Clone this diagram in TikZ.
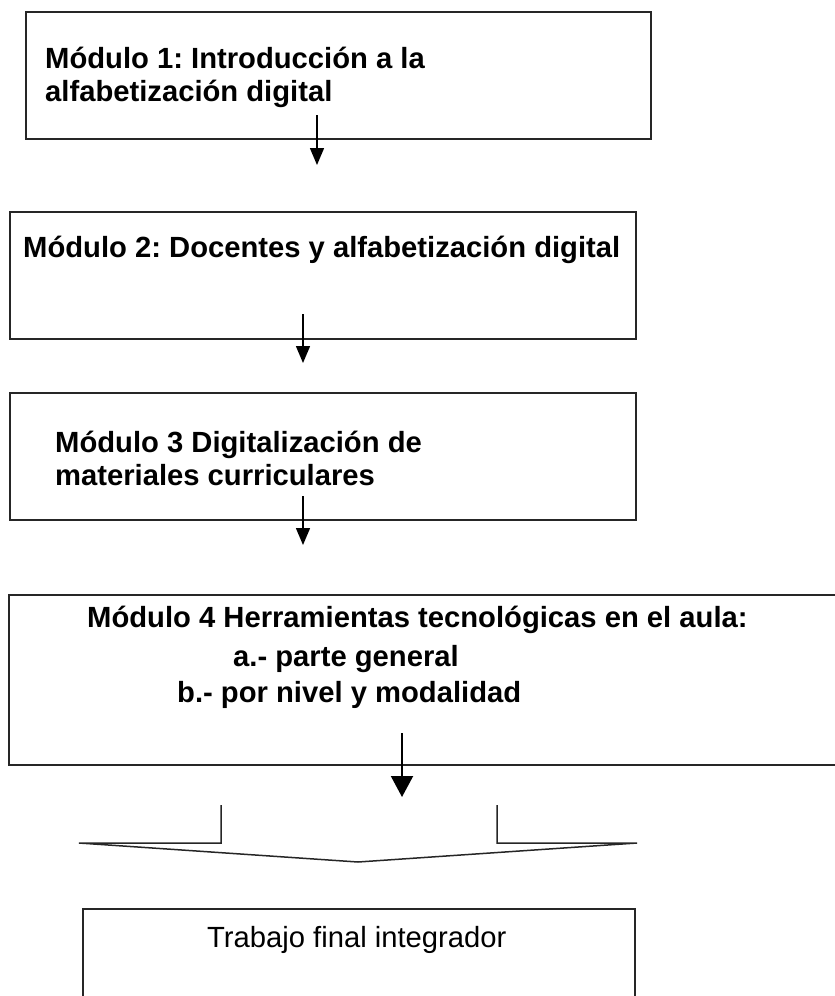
\documentclass[tikz,border=0pt]{standalone}
\usepackage{fontspec}
\setmainfont{Liberation Sans}
\usetikzlibrary{arrows.meta}
\frenchspacing
\begin{document}
\begin{tikzpicture}[x=1pt,y=-1pt,
  box/.style={draw=black!85, line width=1.6pt, rectangle, inner sep=0pt, anchor=north west},
  lbl/.style={font=\fontsize{29.2}{33}\selectfont\bfseries, anchor=base west, inner sep=0pt},
  plainlbl/.style={font=\fontsize{29.2}{33}\selectfont, anchor=base west, inner sep=0pt},
  flow/.style={line width=1.5pt, -{Triangle[length=17pt,width=14pt]}},
  bigflow/.style={line width=2pt, -{Triangle[length=21pt,width=22pt]}},
  bracket/.style={draw=black!85, line width=1.5pt, line join=miter}]
\useasboundingbox (0,0) rectangle (835,996);

% boxes
\node[box, minimum width=625pt, minimum height=127pt] (m1) at (25,11) {};
\node[box, minimum width=626pt, minimum height=127pt] (m2) at (9,211) {};
\node[box, minimum width=626pt, minimum height=127pt] (m3) at (9,392) {};
\node[box, line width=2pt, minimum width=832pt, minimum height=170pt] (m4) at (8,594) {};
\node[box, minimum width=552pt, minimum height=110pt] (tf) at (82,908) {};

% texts
\node[lbl] (t1a) at (45,68) {Módulo 1: Introducción a la};
\node[lbl] (t1b) at (45,101) {alfabetización digital};
\node[lbl] (t2) at (23,257) {Módulo 2: Docentes y alfabetización digital};
\node[lbl] (t3a) at (55,452) {Módulo 3 Digitalización de};
\node[lbl] (t3b) at (55,485) {materiales curriculares};
\node[lbl] (t4a) at (87,627) {Módulo 4 Herramientas tecnológicas en el aula:};
\node[lbl] (t4b) at (233,666) {a.- parte general};
\node[lbl] (t4c) at (177,702) {b.- por nivel y modalidad};
\node[plainlbl] (t5) at (207,947) {Trabajo final integrador};

% arrow coordinates
\coordinate (s1) at (317,115); \coordinate (e1) at (317,165);
\coordinate (s2) at (303,314); \coordinate (e2) at (303,363);
\coordinate (s3) at (303,496); \coordinate (e3) at (303,545);
\coordinate (s4) at (402,733); \coordinate (e4) at (402,797);
\draw[flow] (s1) -- (e1);
\draw[flow] (s2) -- (e2);
\draw[flow] (s3) -- (e3);
\draw[bigflow] (s4) -- (e4);

% bracket / funnel shape
\coordinate (bl) at (221,805);
\coordinate (br) at (497,805);
\coordinate (tip) at (358,862);
\draw[bracket] (bl) -- (221,843) -- (79,843) -- (tip) -- (637,843) -- (497,843) -- (br);
\end{tikzpicture}
\end{document}
